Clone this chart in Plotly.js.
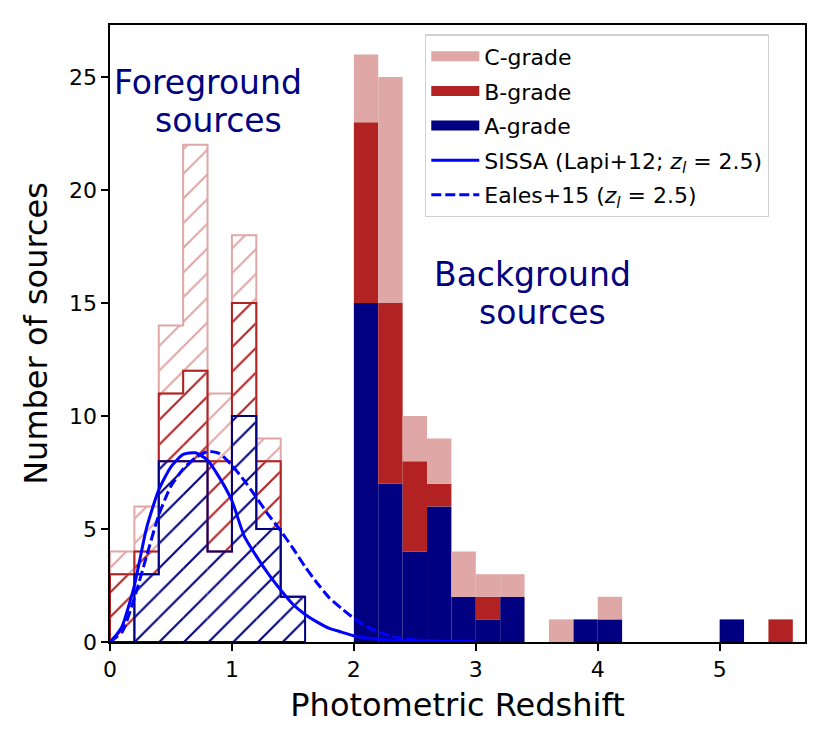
<!DOCTYPE html>
<html>
<head>
<meta charset="utf-8">
<script src="https://cdn.plot.ly/plotly-3.0.1.min.js"></script>
<style>
  html, body { margin: 0; padding: 0; background: #fff; }
  #chart { width: 830px; height: 747px; }
</style>
</head>
<body>
<div id="chart"></div>
<script>
// bin width of both histograms
const binWidth = 0.2;

// foreground sources (hatched, z < 1.6)
const fgCenters = [0.1, 0.3, 0.5, 0.7, 0.9, 1.1, 1.3, 1.5];
const fgA = [0, 3, 8, 8, 4, 10, 5, 2];
const fgB = [3, 1, 3, 4, 4, 5, 3, 0];
const fgC = [1, 2, 3, 10, 3, 3, 1, 0];

// background sources (filled, z > 2)
const bgCenters = [2.1, 2.3, 2.5, 2.7, 2.9, 3.1, 3.3, 3.5, 3.7, 3.9, 4.1, 4.3, 4.5, 4.7, 4.9, 5.1, 5.3, 5.5];
const bgA = [15, 7, 4, 6, 2, 1, 2, 0, 0, 1, 1, 0, 0, 0, 0, 1, 0, 0];
const bgB = [8, 8, 4, 1, 0, 1, 0, 0, 0, 0, 0, 0, 0, 0, 0, 0, 0, 1];
const bgC = [3, 10, 2, 2, 2, 1, 1, 0, 1, 0, 1, 0, 0, 0, 0, 0, 0, 0];

// model curves
const sissaZ = [0, 0.05, 0.1, 0.2, 0.3, 0.4, 0.5, 0.6, 0.7, 0.8, 0.9, 1.0, 1.1, 1.2, 1.3, 1.4, 1.5, 1.6, 1.7, 1.8, 1.9, 2.0, 2.2, 2.4, 2.7, 3.0];
const sissaN = [0, 0.3, 0.7, 2.5, 5.05, 6.73, 7.75, 8.3, 8.37, 8.05, 7.25, 6.25, 4.7, 3.8, 3.0, 2.3, 1.67, 1.22, 0.88, 0.6, 0.44, 0.27, 0.12, 0.06, 0.03, 0.01];
const ealesZ = [0, 0.1, 0.2, 0.3, 0.4, 0.5, 0.6, 0.7, 0.8, 0.9, 1.0, 1.1, 1.2, 1.3, 1.4, 1.5, 1.6, 1.7, 1.8, 1.9, 2.0, 2.1, 2.2, 2.3, 2.4, 2.6, 2.8, 3.0];
const ealesN = [0, 0.45, 1.95, 3.8, 5.62, 6.9, 7.65, 8.15, 8.43, 8.33, 7.82, 7.15, 6.4, 5.62, 4.92, 4.15, 3.33, 2.6, 1.95, 1.48, 1.05, 0.7, 0.45, 0.27, 0.15, 0.06, 0.02, 0];

const colC = '#e0a7a7';
const colB = '#b22222';
const colA = '#000080';
const colModel = '#0000ff';

const add = (a, b) => a.map((v, i) => v + b[i]);
const zeros = n => new Array(n).fill(0);

const fgAB = add(fgA, fgB);
const bgAB = add(bgA, bgB);

function hatchBars(centers, base, counts, color) {
  return {
    type: 'bar', x: centers, y: counts, base: base, width: binWidth,
    showlegend: false, hoverinfo: 'skip',
    marker: {
      color: 'rgba(0,0,0,0)',
      line: { width: 0 },
      pattern: {
        shape: '/', fgcolor: color, bgcolor: 'rgba(0,0,0,0)', fgopacity: 1,
        fillmode: 'overlay', size: 17.45, solidity: 0.12
      }
    }
  };
}

function filledBars(centers, base, counts, color) {
  return {
    type: 'bar', x: centers, y: counts, base: base, width: binWidth,
    showlegend: false,
    marker: { color: color, line: { width: 0 } }
  };
}

// closed step outline between a lower and an upper cumulative level
function stepOutline(centers, bottom, top, color) {
  const xs = [centers[0] - binWidth / 2];
  const ys = [bottom[0]];
  centers.forEach((c, i) => {
    xs.push(c - binWidth / 2, c + binWidth / 2);
    ys.push(top[i], top[i]);
  });
  for (let i = centers.length - 1; i >= 0; i--) {
    xs.push(centers[i] + binWidth / 2, centers[i] - binWidth / 2);
    ys.push(bottom[i], bottom[i]);
  }
  return {
    type: 'scatter', mode: 'lines', x: xs, y: ys,
    line: { color: color, width: 2 }, showlegend: false, hoverinfo: 'skip'
  };
}

function legendPatch(name, color, group) {
  return {
    type: 'scatter', mode: 'lines', x: [null], y: [null], name: name,
    legendgroup: group, line: { color: color, width: 16 }
  };
}

const n = fgCenters.length;
const traces = [
  hatchBars(fgCenters, fgAB, fgC, colC),
  hatchBars(fgCenters, fgA, fgB, colB),
  hatchBars(fgCenters, zeros(n), fgA, colA),
  filledBars(bgCenters, zeros(bgCenters.length), bgA, colA),
  filledBars(bgCenters, bgA, bgB, colB),
  filledBars(bgCenters, bgAB, bgC, colC),
  stepOutline(fgCenters, fgAB, add(fgAB, fgC), colC),
  stepOutline(fgCenters, fgA, fgAB, colB),
  stepOutline(fgCenters, zeros(n), fgA, colA),
  legendPatch('C-grade', colC, 'c'),
  legendPatch('B-grade', colB, 'b'),
  legendPatch('A-grade', colA, 'a'),
  {
    type: 'scatter', mode: 'lines', x: sissaZ, y: sissaN, legendgroup: 's',
    name: 'SISSA (Lapi+12; <i>z</i><sub><i>l</i></sub> = 2.5)',
    line: { color: colModel, width: 3, shape: 'spline', smoothing: 0.6 }
  },
  {
    type: 'scatter', mode: 'lines', x: ealesZ, y: ealesN, legendgroup: 'e',
    name: 'Eales+15 (<i>z</i><sub><i>l</i></sub> = 2.5)',
    line: { color: colModel, width: 3, dash: '10px,4px', shape: 'spline', smoothing: 0.6 }
  }
];

const txt = { family: 'DejaVu Sans, sans-serif', size: 33, color: '#000080' };

const layout = {
  width: 830, height: 747,
  margin: { l: 110, r: 25, t: 25, b: 105 },
  paper_bgcolor: '#fff', plot_bgcolor: '#fff',
  font: { family: 'DejaVu Sans, sans-serif', color: '#000' },
  barmode: 'overlay',
  showlegend: true,
  xaxis: {
    range: [0, 5.7], dtick: 1, tick0: 0,
    ticks: 'outside', ticklen: 7, tickwidth: 1.7, tickcolor: '#000',
    showline: true, linecolor: '#000', linewidth: 1.7, mirror: true,
    showgrid: false, zeroline: false,
    tickfont: { size: 22, color: '#000' },
    title: { text: 'Photometric Redshift', font: { size: 32, color: '#000' }, standoff: 12 }
  },
  yaxis: {
    range: [0, 27.3], dtick: 5, tick0: 0,
    ticks: 'outside', ticklen: 7, tickwidth: 1.7, tickcolor: '#000',
    showline: true, linecolor: '#000', linewidth: 1.7, mirror: true,
    showgrid: false, zeroline: false,
    tickfont: { size: 22, color: '#000' },
    title: { text: 'Number of sources', font: { size: 32, color: '#000' }, standoff: 12 }
  },
  legend: {
    x: 0.4532, y: 0.985, xanchor: 'left', yanchor: 'top',
    bgcolor: 'rgba(255,255,255,0.8)', bordercolor: '#d0d0d0', borderwidth: 1.3,
    font: { size: 22, color: '#000' },
    itemwidth: 48,
    traceorder: 'grouped', tracegroupgap: 3
  },
  annotations: [
    { xref: 'x', yref: 'y', x: 0.80, y: 24.76, text: 'Foreground', showarrow: false, font: txt },
    { xref: 'x', yref: 'y', x: 0.886, y: 23.07, text: 'sources', showarrow: false, font: txt },
    { xref: 'x', yref: 'y', x: 3.466, y: 16.26, text: 'Background', showarrow: false, font: txt },
    { xref: 'x', yref: 'y', x: 3.549, y: 14.58, text: 'sources', showarrow: false, font: txt }
  ]
};

Plotly.newPlot('chart', traces, layout, { displayModeBar: false, staticPlot: true });
</script>
</body>
</html>
